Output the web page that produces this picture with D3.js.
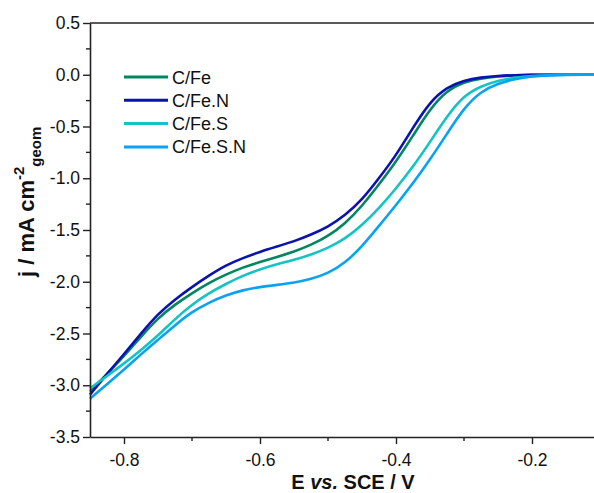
<!DOCTYPE html>
<html>
<head>
<meta charset="utf-8">
<script src="https://cdn.jsdelivr.net/npm/d3@7"></script>
<style>
  body { margin: 0; background: #fff; }
  svg { display: block; font-family: Arial, "Liberation Sans", sans-serif; }
</style>
</head>
<body>
<div id="chart"></div>
<script>
// potential values (V vs SCE)
var potential = [-0.850, -0.825, -0.800, -0.775, -0.750, -0.725, -0.700, -0.675, -0.650, -0.625,
                 -0.600, -0.575, -0.550, -0.525, -0.500, -0.475, -0.450, -0.425, -0.400, -0.375,
                 -0.350, -0.325, -0.300, -0.275, -0.250, -0.225, -0.200, -0.175, -0.150, -0.125, -0.100];

// current density values (mA cm-2 geom), one array per sample
var cFe   = [-3.06, -2.89, -2.72, -2.53, -2.35, -2.22, -2.11, -2.01, -1.93, -1.86,
             -1.81, -1.76, -1.71, -1.645, -1.56, -1.44, -1.27, -1.06, -0.84, -0.59,
             -0.33, -0.15, -0.07, -0.035, -0.015, -0.006, 0, 0, 0, 0, 0];
var cFeN  = [-3.09, -2.89, -2.70, -2.50, -2.31, -2.17, -2.05, -1.94, -1.84, -1.77,
             -1.71, -1.66, -1.61, -1.545, -1.47, -1.36, -1.21, -1.00, -0.78, -0.51,
             -0.26, -0.12, -0.055, -0.025, -0.01, -0.004, 0, 0, 0, 0, 0];
var cFeS  = [-3.03, -2.91, -2.79, -2.66, -2.52, -2.36, -2.22, -2.11, -2.02, -1.94,
             -1.88, -1.83, -1.79, -1.74, -1.675, -1.585, -1.455, -1.29, -1.10, -0.89,
             -0.65, -0.40, -0.20, -0.11, -0.055, -0.028, -0.012, -0.004, 0, 0, 0];
var cFeSN = [-3.13, -2.99, -2.85, -2.70, -2.56, -2.42, -2.29, -2.20, -2.13, -2.08,
             -2.05, -2.03, -2.01, -1.975, -1.92, -1.82, -1.66, -1.46, -1.26, -1.05,
             -0.82, -0.57, -0.32, -0.16, -0.085, -0.04, -0.015, -0.005, 0, 0, 0];

var seriesNames = ["C/Fe", "C/Fe.N", "C/Fe.S", "C/Fe.S.N"];
var seriesColors = ["#00875f", "#0a12b0", "#12c4c4", "#0aa2f2"];
var seriesValues = [cFe, cFeN, cFeS, cFeSN];

var xTicks = [-0.8, -0.6, -0.4, -0.2];
var xMinor = [-0.7, -0.5, -0.3];
var yTicks = [0.5, 0.0, -0.5, -1.0, -1.5, -2.0, -2.5, -3.0, -3.5];
var yMinor = [0.25, -0.25, -0.75, -1.25, -1.75, -2.25, -2.75, -3.25];

var svgWidth = 594;
var svgHeight = 493;

var margin = { top: 23, left: 90 };
var plotRight = 600;
var plotBottom = 437;

var svg = d3.select("#chart")
  .append("svg")
  .attr("width", svgWidth)
  .attr("height", svgHeight);

var xScale = d3.scaleLinear()
  .domain([-0.85, -0.10])
  .range([margin.left, plotRight]);

var yScale = d3.scaleLinear()
  .domain([-3.5, 0.5])
  .range([plotBottom, margin.top]);

// curves
var line = d3.line()
  .x(d => xScale(d[0]))
  .y(d => yScale(d[1]))
  .curve(d3.curveBasis);

var curveGroup = svg.append("g");
seriesValues.forEach(function(vals, i) {
  var pts = potential.map((e, k) => [e, vals[k]]);
  curveGroup.append("path")
    .datum(pts)
    .attr("d", line)
    .attr("fill", "none")
    .attr("stroke", seriesColors[i])
    .attr("stroke-width", 2.6)
    .attr("stroke-linejoin", "round");
});

// axes
var axisColor = "#222";

var bottomAxis = d3.axisBottom(xScale)
  .tickValues(xTicks)
  .tickFormat(d3.format(".1f"))
  .tickSizeInner(7)
  .tickSizeOuter(0)
  .tickPadding(10);

var xAxis = svg.append("g")
  .attr("transform", `translate(0, ${plotBottom})`)
  .call(bottomAxis);

var leftAxis = d3.axisLeft(yScale)
  .tickValues(yTicks)
  .tickFormat(d3.format(".1f"))
  .tickSizeInner(7)
  .tickSizeOuter(0)
  .tickPadding(3);

var yAxis = svg.append("g")
  .attr("transform", `translate(${margin.left}, 0)`)
  .call(leftAxis);

[xAxis, yAxis].forEach(function(ax) {
  ax.select(".domain").attr("stroke", axisColor).attr("stroke-width", 1.6);
  ax.selectAll(".tick line").attr("stroke", axisColor).attr("stroke-width", 1.4);
  ax.selectAll(".tick text")
    .attr("fill", "#111")
    .attr("font-size", "17.5px")
    .attr("font-family", "Arial, 'Liberation Sans', sans-serif")
    .text(function(d) { return d3.format(".1f")(d).replace("−", "-"); });
});

// minor ticks
svg.append("g").selectAll("line")
  .data(xMinor).enter()
  .append("line")
  .attr("x1", d => xScale(d)).attr("x2", d => xScale(d))
  .attr("y1", plotBottom).attr("y2", plotBottom + 4)
  .attr("stroke", axisColor).attr("stroke-width", 1.4);

svg.append("g").selectAll("line")
  .data(yMinor).enter()
  .append("line")
  .attr("x1", margin.left - 4).attr("x2", margin.left)
  .attr("y1", d => yScale(d)).attr("y2", d => yScale(d))
  .attr("stroke", axisColor).attr("stroke-width", 1.4);

// top frame line
svg.append("line")
  .attr("x1", margin.left).attr("x2", plotRight)
  .attr("y1", margin.top).attr("y2", margin.top)
  .attr("stroke", axisColor).attr("stroke-width", 1.6);

// axis titles
var xTitle = svg.append("text")
  .attr("x", 353)
  .attr("y", 488.5)
  .attr("text-anchor", "middle")
  .attr("font-size", "20px")
  .attr("font-weight", "bold")
  .attr("fill", "#111");
xTitle.append("tspan").text("E ");
xTitle.append("tspan").attr("font-style", "italic").text("vs.");
xTitle.append("tspan").text(" SCE / V");

var yTitle = svg.append("text")
  .attr("transform", "translate(34, 277) rotate(-90)")
  .attr("text-anchor", "start")
  .attr("font-size", "22px")
  .attr("font-weight", "bold")
  .attr("fill", "#111");
yTitle.append("tspan").text("j / mA cm");
yTitle.append("tspan").attr("font-size", "15px").attr("dy", -10).text("-2");
yTitle.append("tspan").attr("font-size", "15px").attr("dy", 17).text("geom");

// legend
var legend = svg.append("g");
seriesNames.forEach(function(name, i) {
  var ly = 77 + i * 23.3;
  legend.append("line")
    .attr("x1", 124).attr("x2", 168)
    .attr("y1", ly).attr("y2", ly)
    .attr("stroke", seriesColors[i])
    .attr("stroke-width", 3);
  legend.append("text")
    .attr("x", 172)
    .attr("y", ly + 6.5)
    .attr("font-size", "18px")
    .attr("fill", "#111")
    .text(name);
});
</script>
</body>
</html>
